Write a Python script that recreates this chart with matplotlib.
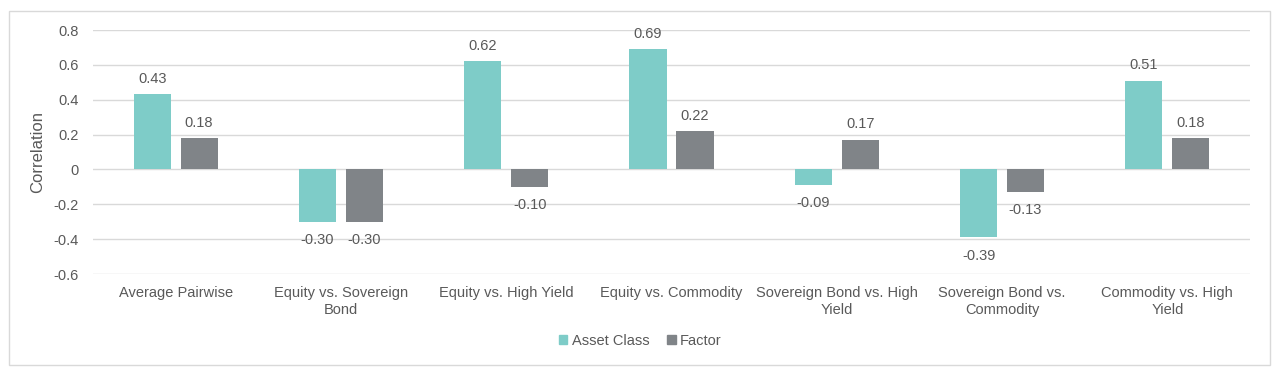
import matplotlib
matplotlib.use("Agg")
import matplotlib.pyplot as plt
from matplotlib.patches import Rectangle, Patch
from matplotlib.ticker import FuncFormatter
import numpy as np

plt.rcParams['font.family'] = ['Liberation Sans', 'DejaVu Sans']
plt.rcParams['axes.unicode_minus'] = False

categories = ["Average Pairwise", "Equity vs. Sovereign\nBond", "Equity vs. High Yield",
              "Equity vs. Commodity", "Sovereign Bond vs. High\nYield",
              "Sovereign Bond vs.\nCommodity", "Commodity vs. High\nYield"]
asset_class = [0.43, -0.30, 0.62, 0.69, -0.09, -0.39, 0.51]
factor = [0.18, -0.30, -0.10, 0.22, 0.17, -0.13, 0.18]
series_names = ["Asset Class", "Factor"]
yticks = [-0.6, -0.4, -0.2, 0, 0.2, 0.4, 0.6, 0.8]

c_asset = "#7ECCC8"
c_factor = "#808488"
txt = "#595959"
grid = "#D9D9D9"

fig = plt.figure(figsize=(12.79, 3.75), dpi=100)
fig.patches.append(Rectangle((9/1279, 10/375), 1261/1279, 354/375, transform=fig.transFigure,
                             fill=False, edgecolor=grid, linewidth=1.0))
ax = fig.add_axes([93/1279, 1-274/375, (1250-93)/1279, (274-30)/375])

x = np.arange(len(categories))
w = 0.225
off = 0.142
b1 = ax.bar(x - off, asset_class, w, color=c_asset, zorder=3)
b2 = ax.bar(x + off, factor, w, color=c_factor, zorder=3)

for bars, vals in ((b1, asset_class), (b2, factor)):
    for b, v in zip(bars, vals):
        cx = b.get_x() + b.get_width()/2
        if v >= 0:
            ax.annotate(f"{v:.2f}", (cx, v), xytext=(0, 6), textcoords="offset points",
                        ha="center", va="bottom", fontsize=10.5, color=txt)
        else:
            ax.annotate(f"{v:.2f}", (cx, v), xytext=(0, -8), textcoords="offset points",
                        ha="center", va="top", fontsize=10.5, color=txt)

ax.set_ylim(-0.6, 0.8)
ax.set_xlim(-0.5, len(categories) - 0.5)
ax.set_yticks(yticks)
ax.yaxis.set_major_formatter(FuncFormatter(lambda v, p: "0" if abs(v) < 1e-9 else f"{v:.1f}"))
ax.set_xticks(x)
ax.set_xticklabels(categories)
ax.tick_params(axis='both', length=0, labelsize=10.5, colors=txt)
ax.tick_params(axis='x', pad=9)
ax.tick_params(axis='y', pad=10)
ax.grid(axis='y', color=grid, linewidth=1.0, zorder=0)
for s in ax.spines.values():
    s.set_visible(False)
ax.set_ylabel("Correlation", fontsize=12, color=txt, labelpad=6)

handles = [Patch(color=c_asset), Patch(color=c_factor)]
fig.legend(handles, series_names, loc="center", bbox_to_anchor=(640/1279, 1-341/375),
           ncol=2, frameon=False, fontsize=10.5, labelcolor=txt,
           handlelength=0.6, handleheight=0.6, handletextpad=0.3, columnspacing=1.2)

fig.savefig("out.png", dpi=100)
